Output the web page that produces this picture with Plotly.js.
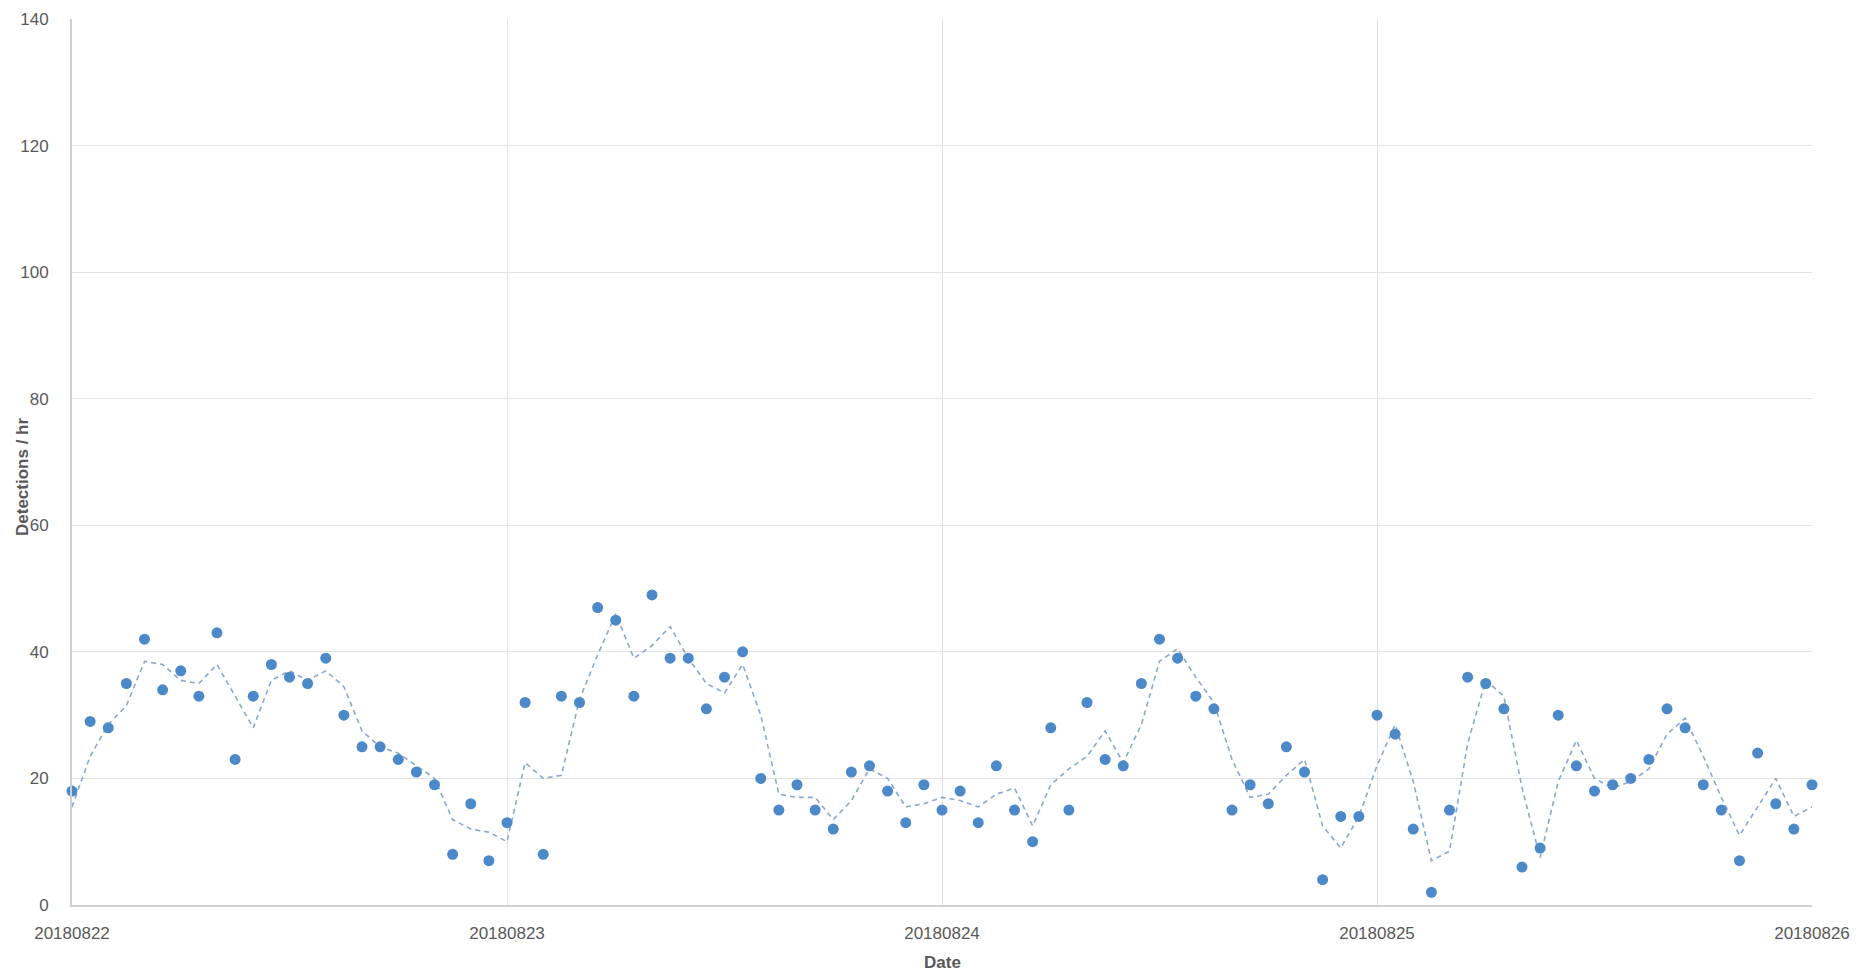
<!DOCTYPE html>
<html>
<head>
<meta charset="utf-8">
<script src="https://cdn.plot.ly/plotly-3.0.1.min.js"></script>
<style>
  html, body { margin: 0; padding: 0; background: #ffffff; }
  #chart { width: 1858px; height: 972px; }
</style>
</head>
<body>
<div id="chart"></div>
<script>
// Hourly detections, 20180822 00h .. 20180826 00h
const detections = [
  18, 29, 28, 35, 42, 34, 37, 33, 43, 23, 33, 38, 36, 35, 39, 30, 25, 25, 23, 21, 19, 8, 16, 7,
  13, 32, 8, 33, 32, 47, 45, 33, 49, 39, 39, 31, 36, 40, 20, 15, 19, 15, 12, 21, 22, 18, 13, 19,
  15, 18, 13, 22, 15, 10, 28, 15, 32, 23, 22, 35, 42, 39, 33, 31, 15, 19, 16, 25, 21, 4, 14, 14,
  30, 27, 12, 2, 15, 36, 35, 31, 6, 9, 30, 22, 18, 19, 20, 23, 31, 28, 19, 15, 7, 24, 16, 12, 19
];
// Dashed trend line (moving average)
const trend = [
  15.5, 23.5, 28.5, 31.5, 38.5, 38, 35.5, 35, 38, 33, 28, 35.5, 37, 35.5, 37, 34.5, 27.5, 25, 24, 22, 20, 13.5, 12, 11.5,
  10, 22.5, 20, 20.5, 32.5, 39.5, 46, 39, 41, 44, 39, 35, 33.5, 38, 30, 17.5, 17, 17, 13.5, 16.5, 21.5, 20, 15.5, 16,
  17, 16.5, 15.5, 17.5, 18.5, 12.5, 19, 21.5, 23.5, 27.5, 22.5, 28.5, 38.5, 40.5, 36, 32, 23, 17, 17.5, 20.5, 23, 12.5, 9, 14,
  22, 28.5, 19.5, 7, 8.5, 25.5, 35.5, 33, 18.5, 7.5, 19.5, 26, 20, 18.5, 19.5, 21.5, 27, 29.5, 23.5, 17, 11, 15.5, 20, 14, 15.5
];
const hours = detections.map((_, i) => i);
const tickHours = [0, 24, 48, 72, 96];
const tickLabels = ['20180822', '20180823', '20180824', '20180825', '20180826'];
const yTicks = [0, 20, 40, 60, 80, 100, 120, 140];

const textColor = '#595959';
const font = 'Liberation Sans, Arial, sans-serif';

const traces = [
  {
    x: hours, y: trend, type: 'scatter', mode: 'lines',
    line: { color: '#8aa8cc', width: 1.6, dash: '5px,4px' },
    hoverinfo: 'skip', cliponaxis: false
  },
  {
    x: hours, y: detections, type: 'scatter', mode: 'markers',
    marker: { color: '#4c89c8', size: 11 },
    cliponaxis: false
  }
];

const layout = {
  width: 1858, height: 972,
  margin: { l: 72, r: 46, t: 19, b: 67 },
  paper_bgcolor: '#ffffff', plot_bgcolor: '#ffffff',
  showlegend: false,
  font: { family: font, color: textColor, size: 17 },
  xaxis: {
    range: [0, 96], tickvals: tickHours, ticktext: tickLabels,
    showgrid: true, gridcolor: '#e2e2e2', gridwidth: 1,
    showline: true, linecolor: '#cfcfcf', linewidth: 2,
    zeroline: false, ticks: '', ticklabelstandoff: 12,
    tickfont: { family: font, size: 17, color: textColor }
  },
  yaxis: {
    range: [0, 140], tickvals: yTicks,
    showgrid: true, gridcolor: '#e2e2e2', gridwidth: 1,
    showline: true, linecolor: '#cfcfcf', linewidth: 2,
    zeroline: false, ticks: '', ticklabelstandoff: 18,
    tickfont: { family: font, size: 17, color: textColor }
  },
  annotations: [
    {
      text: '<b>Date</b>', xref: 'paper', yref: 'paper',
      x: 0.5, y: (905 - 962) / 886, xanchor: 'center', yanchor: 'middle',
      showarrow: false, font: { family: font, size: 17, color: textColor }
    },
    {
      text: '<b>Detections / hr</b>', xref: 'paper', yref: 'paper',
      x: (22 - 72) / 1740, y: (905 - 477) / 886, xanchor: 'center', yanchor: 'middle',
      textangle: -90, showarrow: false, font: { family: font, size: 17, color: textColor }
    }
  ]
};

Plotly.newPlot('chart', traces, layout, { displayModeBar: false, staticPlot: true });
</script>
</body>
</html>
